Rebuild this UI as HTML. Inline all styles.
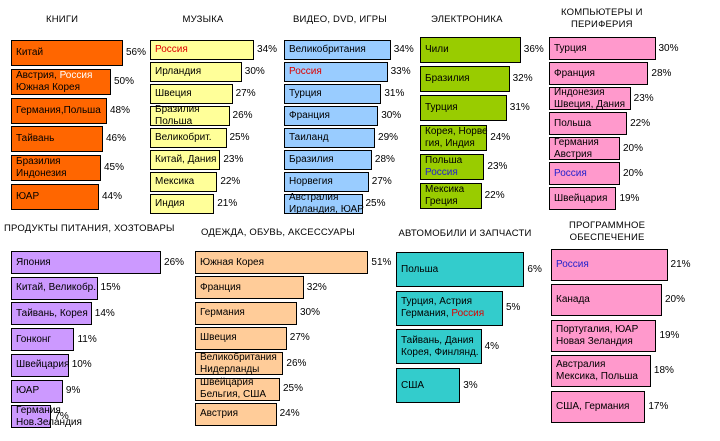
<!DOCTYPE html>
<html><head><meta charset="utf-8">
<style>
body{margin:0;background:#fff;width:720px;height:441px;overflow:hidden;position:relative;font-family:"Liberation Sans","DejaVu Sans",sans-serif;}
.t{position:absolute;font-size:9.5px;text-align:center;letter-spacing:0.2px;color:#000;line-height:12px;white-space:nowrap}
.b{position:absolute;box-sizing:border-box;border:1.5px solid #000;display:flex;align-items:center;padding-left:4px;font-size:10px;line-height:12px;white-space:nowrap;color:#000;overflow:visible}
.v{position:absolute;font-size:10px;line-height:12px;color:#000}
.r{color:#d00}.w{color:#fff}.bl{color:#22c}
</style></head><body>
<script>
const booksCats=["Китай","Австрия, <span class=w>Россия</span><br>Южная Корея","Германия,Польша","Тайвань","Бразилия<br>Индонезия","ЮАР"];
const booksVals=[56,50,48,46,45,44];
const musicCats=["<span class=r>Россия</span>","Ирландия","Швеция","Бразилия<br>Польша","Великобрит.","Китай, Дания","Мексика","Индия"];
const musicVals=[34,30,27,26,25,23,22,21];
const videoCats=["Великобритания","<span class=r>Россия</span>","Турция","Франция","Таиланд","Бразилия","Норвегия","Австралия<br>Ирландия, ЮАР"];
const videoVals=[34,33,31,30,29,28,27,25];
const elecCats=["Чили","Бразилия","Турция","Корея, Норве<br>гия, Индия","Польша<br><span class=bl>Россия</span>","Мексика<br>Греция"];
const elecVals=[36,32,31,24,23,22];
const compCats=["Турция","Франция","Индонезия<br>Швеция, Дания","Польша","Германия<br>Австрия","<span class=bl>Россия</span>","Швейцария"];
const compVals=[30,28,23,22,20,20,19];
const foodCats=["Япония","Китай, Великобр.","Тайвань, Корея","Гонконг","Швейцария","ЮАР","Германия<br>Нов.Зеландия"];
const foodVals=[26,15,14,11,10,9,7];
const clothCats=["Южная Корея","Франция","Германия","Швеция","Великобритания<br>Нидерланды","Швейцария<br>Бельгия, США","Австрия"];
const clothVals=[51,32,30,27,26,25,24];
const autoCats=["Польша","Турция, Астрия<br>Германия, <span class=r>Россия</span>","Тайвань, Дания<br>Корея, Финлянд.","США"];
const autoVals=[6,5,4,3];
const softCats=["<span class=bl>Россия</span>","Канада","Португалия, ЮАР<br>Новая Зеландия","Австралия<br>Мексика, Польша","США, Германия"];
const softVals=[21,20,19,18,17];

const panels=[
 {name:"books",title:"КНИГИ",tx:62,ty:14,x:11,y0:40,p:28.8,h:26,s:2.0,c:"#ff6600",cats:booksCats,vals:booksVals},
 {name:"music",title:"МУЗЫКА",tx:203,ty:14,x:150,y0:40,p:22,h:20,s:3.06,c:"#ffff99",cats:musicCats,vals:musicVals},
 {name:"video",title:"ВИДЕО, DVD, ИГРЫ",tx:340,ty:14,x:284,y0:40,p:22,h:20,s:3.14,c:"#99ccff",cats:videoCats,vals:videoVals},
 {name:"electronics",title:"ЭЛЕКТРОНИКА",tx:467,ty:14,x:420,y0:37,p:29.2,h:26,s:2.8,c:"#99cc00",cats:elecCats,vals:elecVals},
 {name:"computers",title:"КОМПЬЮТЕРЫ И<br>ПЕРИФЕРИЯ",tx:602,ty:7,x:549,y0:37,p:25,h:23,s:3.55,c:"#ff99cc",cats:compCats,vals:compVals},
 {name:"food",title:"ПРОДУКТЫ ПИТАНИЯ, ХОЗТОВАРЫ",tx:87,ty:223,x:11,y0:251,p:25.7,h:23,s:5.77,c:"#cc99ff",cats:foodCats,vals:foodVals},
 {name:"clothing",title:"ОДЕЖДА, ОБУВЬ, АКСЕССУАРЫ",tx:278,ty:227,x:195,y0:251,p:25.3,h:23,s:3.4,c:"#ffcc99",cats:clothCats,vals:clothVals},
 {name:"auto",title:"АВТОМОБИЛИ И ЗАПЧАСТИ",tx:465,ty:228,x:396,y0:252,p:38.7,h:35,s:21.4,c:"#33cccc",cats:autoCats,vals:autoVals},
 {name:"software",title:"ПРОГРАММНОЕ<br>ОБЕСПЕЧЕНИЕ",tx:607,ty:220,x:551,y0:249,p:35.4,h:32,s:5.55,c:"#ff99cc",cats:softCats,vals:softVals}
];
panels.forEach(P=>{
 const t=document.createElement('div');
 t.className='t';t.innerHTML=P.title;
 
 
 document.body.appendChild(t);
 const tw=t.offsetWidth;t.style.left=Math.max(4,P.tx-tw/2)+'px';t.style.top=P.ty+'px';
 P.vals.forEach((v,i)=>{
  const y=P.y0+i*P.p, w=v*P.s;
  const b=document.createElement('div');
  b.className='b';b.innerHTML='<span>'+P.cats[i]+'</span>';
  b.style.cssText=`left:${P.x}px;top:${y}px;width:${w}px;height:${P.h}px;background:${P.c}`;
  
  
  document.body.appendChild(b);
  const l=document.createElement('div');
  l.className='v';l.textContent=v+'%';
  l.style.left=(P.x+w+3)+'px';l.style.top=(y+P.h/2-6)+'px';
  
  
  document.body.appendChild(l);
 });
});
</script>
</body></html>
